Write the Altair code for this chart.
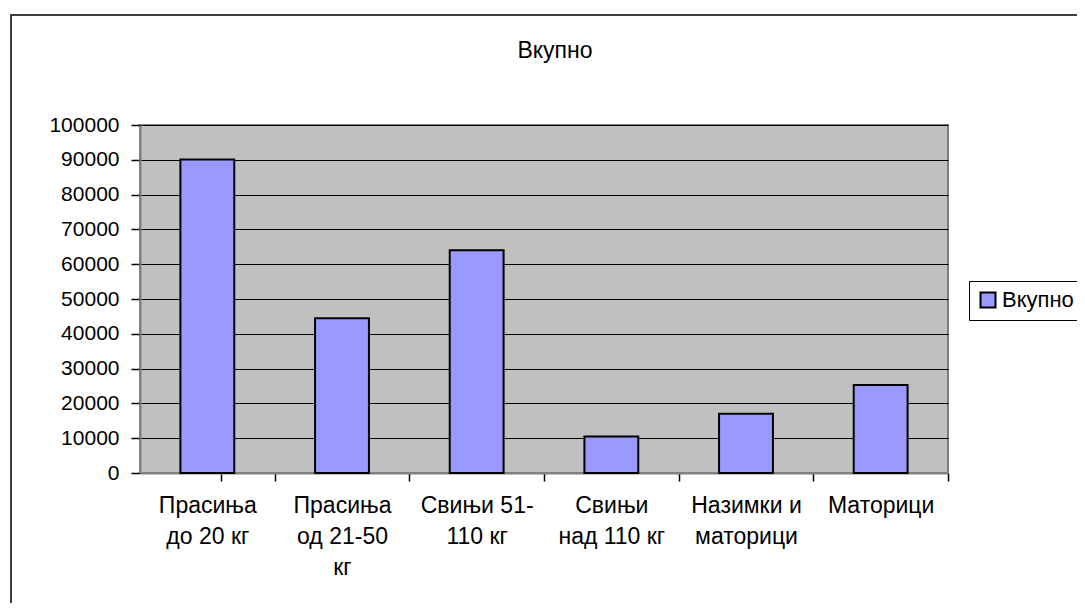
import altair as alt
import pandas as pd

categories = ["Прасиња до 20 кг", "Прасиња од 21-50 кг", "Свињи 51-110 кг",
              "Свињи над 110 кг", "Назимки и маторици", "Маторици"]
tick_labels = [["Прасиња", "до 20 кг"], ["Прасиња", "од 21-50", "кг"], ["Свињи 51-", "110 кг"],
               ["Свињи", "над 110 кг"], ["Назимки и", "маторици"], ["Маторици"]]
values = [90100, 44500, 64000, 10500, 17000, 25300]
series = "Вкупно"
y_ticks = list(range(0, 100001, 10000))

df = pd.DataFrame({
    "cat": ["|".join(t) for t in tick_labels],
    "value": values,
    "series": [series] * len(values),
})

FONT = "Liberation Sans"
PLOT_W, PLOT_H = 808, 348
STEP = PLOT_W / len(tick_labels)

bars = alt.Chart(df).mark_bar(stroke="black", strokeWidth=2).encode(
    x=alt.X("cat:N", sort=None, title=None,
            scale=alt.Scale(paddingInner=0.6, paddingOuter=0.3),
            axis=alt.Axis(labelExpr="split(datum.label, '|')", labelAngle=0,
                          ticks=True, bandPosition=1, tickOffset=0.3 * STEP, tickExtra=True,
                          labelOffset=-0.3 * STEP,
                          tickSize=8, tickColor="black", tickWidth=1.5, tickOpacity=1,
                          domainColor="#808080", domainWidth=2,
                          labelFont=FONT, labelFontSize=23, labelColor="black",
                          labelPadding=13, labelLineHeight=31, labelBaseline="top",
                          labelOverlap=False, labelBound=False, labelLimit=300, grid=False)),
    y=alt.Y("value:Q", title=None,
            scale=alt.Scale(domain=[0, 100000], nice=False),
            axis=alt.Axis(values=y_ticks, format="d", ticks=True, tickSize=9, tickColor="black",
                          tickWidth=1.5, domainColor="#808080", domainWidth=2,
                          labelFont=FONT, labelFontSize=21, labelColor="black", labelPadding=12,
                          grid=True, gridColor="black", gridWidth=1, gridOpacity=1)),
    color=alt.Color("series:N", title=None,
                    scale=alt.Scale(domain=[series], range=["#9999FF"]),
                    legend=alt.Legend(orient="none", legendX=829, legendY=156,
                                      padding=8, strokeColor="black", fillColor="white",
                                      symbolType="square", symbolSize=225,
                                      symbolStrokeColor="black", symbolStrokeWidth=2,
                                      symbolOpacity=1, labelFont=FONT, labelFontSize=22,
                                      labelColor="black", labelOffset=3)),
)

frame = alt.Chart(pd.DataFrame({"a": [0]})).mark_rect(
    fill=None, stroke="#404040", strokeWidth=2
).encode(x=alt.value(-129), x2=alt.value(1000), y=alt.value(-110), y2=alt.value(600))

chart = alt.layer(frame, bars).properties(
    width=PLOT_W, height=PLOT_H,
    padding={"left": 132, "top": 117, "right": 129, "bottom": 130},
    autosize=alt.AutoSizeParams(type="none"),
    background="white",
    title=alt.Title(series, font=FONT, fontSize=23, fontWeight="normal", color="black",
                    anchor="middle", baseline="alphabetic", offset=-67, dx=11),
).configure_view(fill="#C0C0C0", stroke="#808080", strokeWidth=2)

chart.save("out.html", embed_options={"renderer": "svg", "actions": False})
